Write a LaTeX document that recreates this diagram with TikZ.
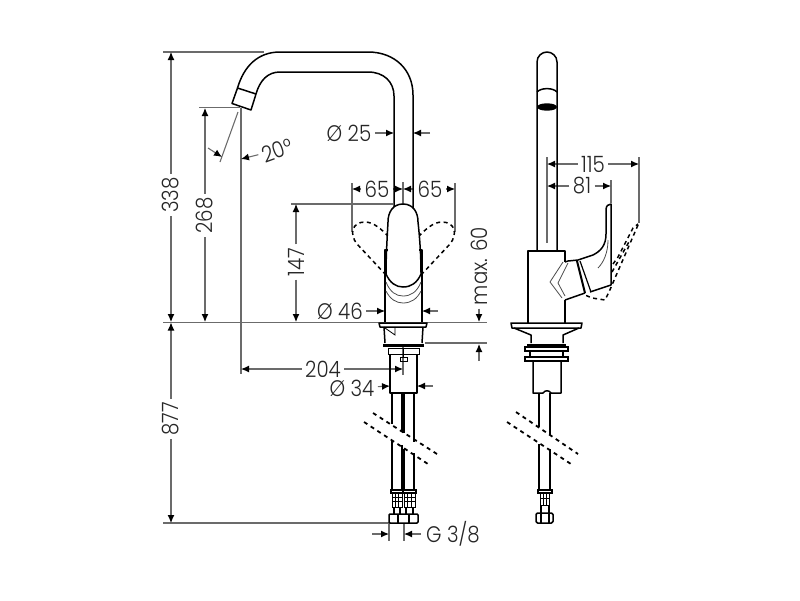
\documentclass[tikz,border=0pt]{standalone}
\usepackage{fontspec}
\setmainfont{Poppins}[UprightFont=* Light, FakeStretch=0.88]
\usetikzlibrary{arrows.meta}
\usetikzlibrary{calc}

\begin{document}
\begin{tikzpicture}
	[x=1pt, y=-1pt]

\useasboundingbox (0, 0) rectangle (800, 600);

\definecolor{DimGray}{gray}{0.42}

% Styles
\tikzstyle{body} =
	[line width=1.5pt, black, line join=round]

\tikzstyle{thin body} =
	[line width=0.8pt, black!70]

\tikzstyle{swing} =
	[line width=1.5pt, black, dash pattern=on 4pt off 3.5pt]

\tikzstyle{cut} =
	[line width=1.8pt, black, dash pattern=on 4pt off 4pt]

\tikzstyle{ext} =
	[line width=1.1pt, DimGray]

\tikzstyle{dim} =
	[line width=1.1pt, DimGray, -{Latex[black, length=8pt, width=7pt]}]

\tikzstyle{label} =
	[font=\fontsize{22.5}{22.5}\selectfont, text=black!85, inner sep=1pt, outer sep=2.5pt]

% Extension lines
\draw[ext] (163, 52) -- (264, 52);
\draw[ext] (199, 107.5) -- (240, 107.5);
\draw[ext] (241, 108) -- (241, 374);
\draw[ext] (238, 112) -- (220, 162);
\draw[ext] (291, 204) -- (393, 204);
\draw[ext] (163, 322.5) -- (487, 322.5);
\draw[ext] (425, 343) -- (487, 343);
\draw[ext] (163, 523) -- (389, 523);
\draw[ext] (352, 183) -- (352, 232);
\draw[ext] (455, 183) -- (455, 232);
\draw[ext] (403, 182) -- (403, 206);
\draw[ext] (403, 345) -- (403, 375);
\draw[ext] (389, 523) -- (389, 541);
\draw[ext] (404, 523) -- (404, 541);
\draw[ext] (547, 157) -- (547, 243);
\draw[ext] (611, 180) -- (611, 203);
\draw[ext] (639, 157) -- (639, 223);

% Dimension labels
\node (Height338) at (171, 195) [label, rotate=90] {338};
\node (Height268) at (205, 215.5) [label, rotate=90] {268};
\node (Height147) at (296, 262) [label, rotate=90] {147};
\node (Max60) at (479, 266) [label, rotate=90] {max. 60};
\node (Depth877) at (171, 419) [label, rotate=90] {877};
\node (Reach204) at (323, 369) [label] {204};
\node (Angle20) at (277, 150) [label, rotate=20] {20°};
\node (Dia25) at (349, 133) [label] {Ø 25};
\node (Dia46) at (340, 311) [label] {Ø 46};
\node (Dia34) at (352, 388) [label] {Ø 34};
\node (SwingL) at (377, 189) [label] {65};
\node (SwingR) at (430, 189) [label] {65};
\node (Thread) at (453, 534) [label] {G 3/8};
\node (Side115) at (593, 164) [label] {115};
\node (Side81) at (582, 186) [label] {81};

% Dimension arrows
\draw[dim] (Height338) -- (171, 52);
\draw[dim] (Height338) -- (171, 322);
\draw[dim] (Height268) -- (205, 108);
\draw[dim] (Height268) -- (205, 322);
\draw[dim] (Height147) -- (296, 204);
\draw[dim] (Height147) -- (296, 322);
\draw[dim] (Max60) -- (479, 322);
\draw[dim] (479, 361) -- (479, 344);
\draw[dim] (Depth877) -- (171, 322.5);
\draw[dim] (Depth877) -- (171, 523);
\draw[dim] (Reach204) -- (241, 369);
\draw[dim] (Reach204) -- (403, 369);
\draw[dim] (208, 148) -- (222, 157);
\draw[dim] (Angle20) -- (241, 159);
\draw[dim] (Dia25) -- (394, 133);
\draw[dim] (430, 133) -- (413, 133);
\draw[dim] (Dia46) -- (385, 311);
\draw[dim] (438, 311) -- (422, 311);
\draw[dim] (Dia34) -- (390, 386);
\draw[dim] (433, 386) -- (417, 386);
\draw[dim] (SwingL) -- (352, 189);
\draw[dim] (SwingL) -- (403, 189);
\draw[dim] (SwingR) -- (403, 189);
\draw[dim] (SwingR) -- (455, 189);
\draw[dim] (372, 534) -- (389, 534);
\draw[dim] (421, 534) -- (404, 534);
\draw[dim] (Side115) -- (547, 164);
\draw[dim] (Side115) -- (639, 164);
\draw[dim] (Side81) -- (547, 186);
\draw[dim] (Side81) -- (611, 186);

% Front view: spout
\draw[body] (237.5, 88) .. controls (244, 66) and (258, 52) .. (280, 52)
	-- (368, 52) .. controls (395, 52) and (413, 70) .. (413, 95) -- (413, 210);
\draw[body] (256, 94) .. controls (260, 80) and (268, 72) .. (280, 72)
	-- (368, 72) .. controls (384, 72) and (394, 82) .. (394, 96) -- (394, 210);
\draw[body] (237.5, 88) -- (256, 94) -- (251, 110) -- (232, 103.5) -- cycle;

% Front view: lever and body
\draw[swing] (386, 275) -- (357, 244) .. controls (349, 234) and (352, 222) .. (365, 222)
	.. controls (374, 222) and (382, 230) .. (388, 236);
\draw[swing] (421, 275) -- (450, 244) .. controls (458, 234) and (455, 222) .. (442, 222)
	.. controls (433, 222) and (425, 230) .. (419, 236);
\draw[body, fill=white] (403, 204) .. controls (393, 204) and (388, 212) .. (388, 222)
	.. controls (387, 240) and (386, 258) .. (386, 274)
	.. controls (390, 283) and (396, 287) .. (403, 287)
	.. controls (411, 287) and (417, 283) .. (421, 274)
	.. controls (421, 258) and (420, 240) .. (418, 222)
	.. controls (418, 212) and (413, 204) .. (403, 204) -- cycle;
\draw[body] (388, 250) -- (385, 250) -- (385, 322);
\draw[body] (419, 250) -- (422, 250) -- (422, 322);
\draw[thin body] (386, 282) .. controls (390, 292) and (396, 296) .. (403, 296)
	.. controls (411, 296) and (417, 292) .. (421, 282);
\draw[thin body] (386, 291) .. controls (390, 299) and (396, 303) .. (403, 303)
	.. controls (411, 303) and (417, 299) .. (421, 291);

% Front view: mounting
\draw[body] (379, 323) -- (427, 323) -- (426, 327) -- (380, 327) -- cycle;
\draw[body] (384, 327) -- (385, 343);
\draw[body] (423, 327) -- (422, 343);
\draw[thin body, black] (385, 328) -- (395, 335) -- (395, 328);
\fill (383, 343.5) rectangle (424, 346.5);
\draw[line width=1pt] (388, 348) rectangle (419, 354);
\draw[body] (390, 354) -- (390, 393) -- (417, 393) -- (417, 354);
\draw[line width=1pt] (400, 357) rectangle (407, 361);
\draw[line width=1pt] (403, 348) -- (403, 357);

% Front view: hoses
\foreach \HoseX/\EndA/\StartB in {392/424/440, 402/432/445, 404/433/449, 414/442/453}
{
	\draw[body] (\HoseX, 393) -- (\HoseX, \EndA);
	\draw[body] (\HoseX, \StartB) -- (\HoseX, 490);
}
\draw[cut] (373, 413) -- (437, 454);
\draw[cut] (364, 422) -- (428, 464);

\foreach \FitX/\FitW in {392/10, 404/11}
{
	\draw[line width=1.1pt] (\FitX - 1, 490) rectangle (\FitX + \FitW + 1, 493);
	\draw[line width=0.9pt] (\FitX, 493) rectangle (\FitX + \FitW, 507);
	\draw[line width=0.7pt] (\FitX, 497) -- (\FitX + \FitW, 497)
		(\FitX, 501) -- (\FitX + \FitW, 501)
		(\FitX + \FitW / 3, 493) -- (\FitX + \FitW / 3, 507)
		(\FitX + 2 * \FitW / 3, 493) -- (\FitX + 2 * \FitW / 3, 507);
	\draw[line width=1.1pt] (\FitX + 2, 507) -- (\FitX + 2, 514)
		(\FitX + \FitW - 2, 507) -- (\FitX + \FitW - 2, 514);
}
\draw[body, rounded corners=1pt] (389, 514) rectangle (418, 523);
\draw[line width=1.1pt] (398, 514) -- (398, 523) (409, 514) -- (409, 523);

% Side view: spout
\draw[body] (537, 250) -- (537, 62) .. controls (537, 56) and (542, 52) .. (547, 52)
	.. controls (552, 52) and (557, 56) .. (557, 62) -- (557, 250);
\draw[body] (537, 92) .. controls (541, 87.5) and (553, 87.5) .. (557, 92);
\fill (547, 107) ellipse [x radius=10, y radius=3.7];

% Side view: body and lever
\draw[body] (565, 262) -- (565, 251) -- (528, 251) -- (528, 323);
\draw[body] (565, 300) -- (565, 323);
\draw[body] (565, 262) -- (568, 261) -- (578, 260);
\draw[body] (565, 300) -- (585, 293);
\draw[line width=2pt] (577, 261) -- (585, 293);
\draw[line width=1.2pt] (580, 261) -- (591, 292);
\draw[body] (578, 260) -- (593, 255) .. controls (601, 251) and (606, 245) .. (606, 234)
	-- (606, 210) .. controls (606, 206) and (608, 204) .. (611, 204)
	-- (611, 285) -- (590, 292);
\draw[thin body] (563, 262) -- (550, 282) -- (562, 298);
\draw[thin body] (568, 263) -- (558, 283) -- (565, 296);
\draw[thin body] (608, 240) .. controls (608, 252) and (604, 262) .. (598, 268);

\draw[swing] (613, 264) -- (618, 257) -- (633, 228) -- (638, 224);
\draw[swing] (612, 272) -- (630, 240);
\draw[swing] (638, 225) -- (615, 278) -- (609, 292) -- (605, 300) -- (592, 298) -- (585, 295);

% Side view: mounting
\draw[body] (511, 323) -- (582, 323) -- (581, 328) -- (512, 328) -- cycle;
\draw[body] (514, 328) -- (531, 335) -- (531, 343);
\draw[body] (579, 328) -- (563, 335) -- (563, 343);
\fill (527, 343.5) rectangle (566, 347);
\draw[line width=1.1pt] (525, 347) rectangle (568, 351);
\draw[line width=1.1pt] (530, 351) -- (530, 357) (563, 351) -- (563, 357);
\draw[line width=1.1pt] (525, 357) rectangle (568, 361);
\draw[body] (533, 361) -- (533, 393) -- (543, 393) .. controls (545, 390) and (549, 390) .. (551, 393)
	-- (561, 393) -- (561, 361);

% Side view: hose
\draw[body] (539, 393) -- (539, 427) (550, 393) -- (550, 435);
\draw[body] (539, 444) -- (539, 490) (550, 449) -- (550, 490);
\draw[cut] (516, 412) -- (578, 454);
\draw[cut] (507, 422) -- (571, 464);
\draw[line width=1.1pt] (538, 490) rectangle (552, 493);
\draw[line width=0.8pt] (540, 493) rectangle (549, 505);
\draw[line width=0.7pt] (540, 498) -- (549, 498) (543, 493) -- (543, 505) (546, 493) -- (546, 505);
\draw[line width=1.1pt] (541, 505) -- (541, 513) (549, 505) -- (549, 513);
\draw[body, rounded corners=1.5pt] (536, 513) rectangle (553, 523);
\draw[line width=1.1pt] (541, 513) -- (541, 523) (549, 513) -- (549, 523);

\end{tikzpicture}
\end{document}
